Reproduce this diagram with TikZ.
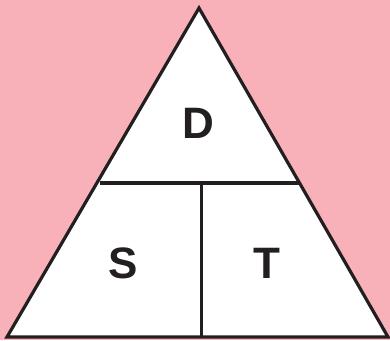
\documentclass[tikz,border=0pt]{standalone}
\usepackage{fontspec}
\setmainfont{Liberation Sans}
\usetikzlibrary{positioning}
\definecolor{bgpink}{RGB}{248,177,185}
\definecolor{inkdark}{RGB}{35,31,32}

\begin{document}
\begin{tikzpicture}[
    x=1pt, y=-1pt,
    edge/.style={draw=inkdark, line width=3.2pt, line join=miter},
    letter/.style={font=\fontsize{44}{44}\selectfont\bfseries, text=inkdark, inner sep=0pt},
]
\fill[bgpink] (0,0) rectangle (390,340);
\useasboundingbox (0,0) rectangle (390,340);
\coordinate (apex) at (199,8);
\coordinate (bl) at (7,337);
\coordinate (br) at (388,337);
\coordinate (ml) at (99.5,183);
\coordinate (mr) at (298.5,183);
\coordinate (mid) at (201.5,183);
\coordinate (mb) at (201.5,337);
\filldraw[edge, fill=white] (apex) -- (br) -- (bl) -- cycle;
\draw[edge] (ml) -- (mr);
\draw[edge] (mid) -- (mb);
\node[letter] (d) at (198,123) {D};
\node[letter] (s) at (123,263) {S};
\node[letter] (t) at (267,263) {T};
\end{tikzpicture}
\end{document}
